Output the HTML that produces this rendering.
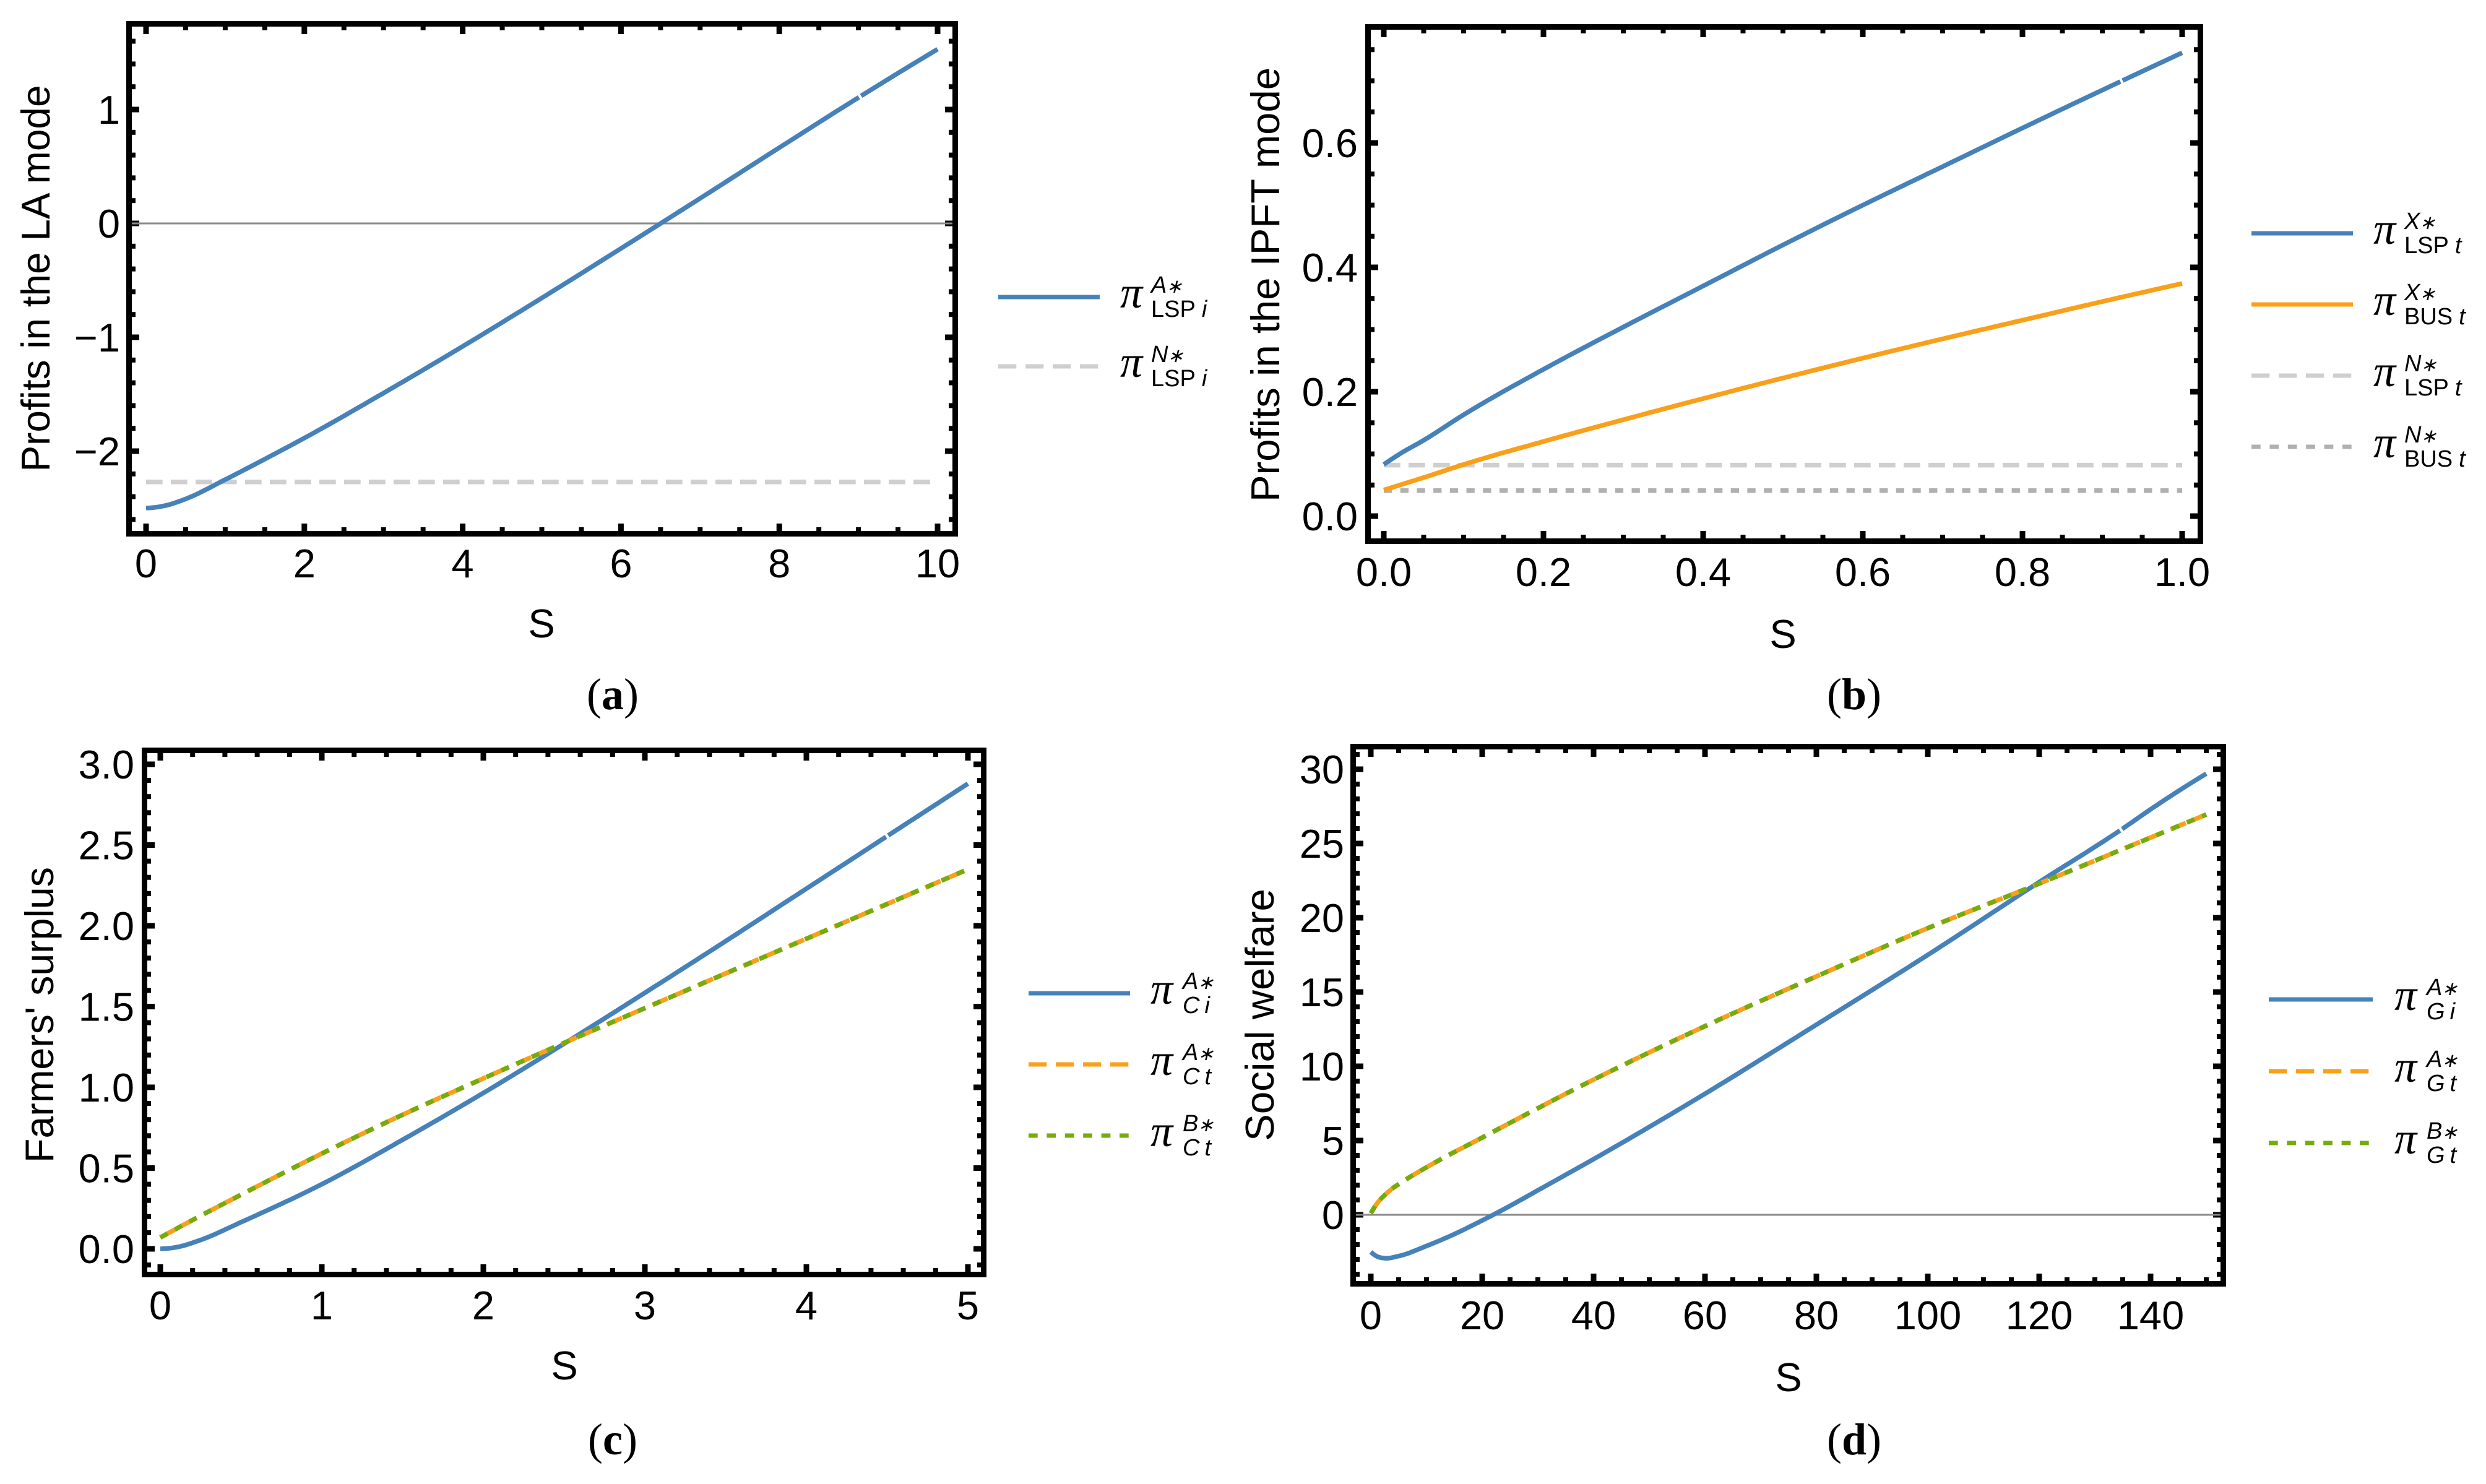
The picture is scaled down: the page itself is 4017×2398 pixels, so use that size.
<!DOCTYPE html>
<html lang="en">
<head>
<meta charset="utf-8">
<title>Profits, farmers' surplus and social welfare versus S</title>
<style>
html,body{margin:0;padding:0;background:#fff;}
svg{display:block;}
text{font-family:"Liberation Sans",Arial,sans-serif;fill:#000;}
.pi{font-family:"Liberation Serif",serif;font-style:italic;font-size:72px;}
.ls{font-size:38px;}
.it{font-style:italic;}
.st{font-size:31px;}
.cap{font-family:"Liberation Serif",serif;font-size:72px;text-anchor:middle;}
.title{font-size:65px;}
.tick{font-size:65px;}
</style>
</head>
<body>
<svg id="figure" xmlns="http://www.w3.org/2000/svg" width="4017" height="2398" viewBox="0 0 4017 2398">
  <rect width="4017" height="2398" fill="#fff"/>

  <g id="panel-a"></g>
  <g id="panel-b"></g>
  <g id="panel-c"></g>
  <g id="panel-d"></g>

  <!-- Axis titles -->
  <text class="title" transform="translate(80 450) rotate(-90)" text-anchor="middle" textLength="625" lengthAdjust="spacingAndGlyphs">Profits in the LA mode</text>
  <text class="title" x="875" y="1030" text-anchor="middle">S</text>
  <text class="title" transform="translate(2067 460) rotate(-90)" text-anchor="middle" textLength="702" lengthAdjust="spacingAndGlyphs">Profits in the IPFT mode</text>
  <text class="title" x="2881" y="1047" text-anchor="middle">S</text>
  <text class="title" transform="translate(86 1640) rotate(-90)" text-anchor="middle" textLength="478" lengthAdjust="spacingAndGlyphs">Farmers' surplus</text>
  <text class="title" x="912" y="2229" text-anchor="middle">S</text>
  <text class="title" transform="translate(2058 1640) rotate(-90)" text-anchor="middle" textLength="408" lengthAdjust="spacingAndGlyphs">Social welfare</text>
  <text class="title" x="2890" y="2248" text-anchor="middle">S</text>

  <!-- Captions -->
  <text class="cap" x="990" y="1146">(<tspan font-weight="bold">a</tspan>)</text>
  <text class="cap" x="2996" y="1146">(<tspan font-weight="bold">b</tspan>)</text>
  <text class="cap" x="990" y="2350">(<tspan font-weight="bold">c</tspan>)</text>
  <text class="cap" x="2996" y="2350">(<tspan font-weight="bold">d</tspan>)</text>

  <!-- Legend a -->
  <g>
    <line x1="1613" x2="1777" y1="480" y2="480" stroke="#4682b9" stroke-width="7"/>
    <text class="pi" x="1810" y="497">π</text>
    <text class="ls it" x="1860" y="473">A<tspan class="st" dx="-1">∗</tspan></text>
    <text class="ls" x="1860" y="512">LSP<tspan class="it" dx="10">i</tspan></text>
  </g>
  <g>
    <line x1="1613" x2="1777" y1="592" y2="592" stroke="#cfcfcf" stroke-width="7" stroke-dasharray="29.3 14.7"/>
    <text class="pi" x="1810" y="609">π</text>
    <text class="ls it" x="1860" y="585">N<tspan class="st" dx="-1">∗</tspan></text>
    <text class="ls" x="1860" y="624">LSP<tspan class="it" dx="10">i</tspan></text>
  </g>

  <!-- Legend b -->
  <g>
    <line x1="3638" x2="3802" y1="377" y2="377" stroke="#4682b9" stroke-width="7"/>
    <text class="pi" x="3835" y="394">π</text>
    <text class="ls it" x="3885" y="370">X<tspan class="st" dx="-1">∗</tspan></text>
    <text class="ls" x="3885" y="409">LSP<tspan class="it" dx="10">t</tspan></text>
  </g>
  <g>
    <line x1="3638" x2="3802" y1="492" y2="492" stroke="#f9a01b" stroke-width="7"/>
    <text class="pi" x="3835" y="509">π</text>
    <text class="ls it" x="3885" y="485">X<tspan class="st" dx="-1">∗</tspan></text>
    <text class="ls" x="3885" y="524">BUS<tspan class="it" dx="10">t</tspan></text>
  </g>
  <g>
    <line x1="3638" x2="3802" y1="607" y2="607" stroke="#cfcfcf" stroke-width="7" stroke-dasharray="29.3 14.7"/>
    <text class="pi" x="3835" y="624">π</text>
    <text class="ls it" x="3885" y="600">N<tspan class="st" dx="-1">∗</tspan></text>
    <text class="ls" x="3885" y="639">LSP<tspan class="it" dx="10">t</tspan></text>
  </g>
  <g>
    <line x1="3638" x2="3802" y1="722" y2="722" stroke="#b0b0b0" stroke-width="7" stroke-dasharray="14.7 14.7"/>
    <text class="pi" x="3835" y="739">π</text>
    <text class="ls it" x="3885" y="715">N<tspan class="st" dx="-1">∗</tspan></text>
    <text class="ls" x="3885" y="754">BUS<tspan class="it" dx="10">t</tspan></text>
  </g>

  <!-- Legend c -->
  <g>
    <line x1="1662" x2="1826" y1="1605" y2="1605" stroke="#4682b9" stroke-width="7"/>
    <text class="pi" x="1859" y="1622">π</text>
    <text class="ls it" x="1911" y="1598">A<tspan class="st" dx="-1">∗</tspan></text>
    <text class="ls it" x="1911" y="1637">C<tspan dx="8">i</tspan></text>
  </g>
  <g>
    <line x1="1662" x2="1826" y1="1720" y2="1720" stroke="#f9a01b" stroke-width="7" stroke-dasharray="29.3 14.7"/>
    <text class="pi" x="1859" y="1737">π</text>
    <text class="ls it" x="1911" y="1713">A<tspan class="st" dx="-1">∗</tspan></text>
    <text class="ls it" x="1911" y="1752">C<tspan dx="8">t</tspan></text>
  </g>
  <g>
    <line x1="1662" x2="1826" y1="1835" y2="1835" stroke="#76ab0c" stroke-width="7" stroke-dasharray="14.7 14.7"/>
    <text class="pi" x="1859" y="1852">π</text>
    <text class="ls it" x="1911" y="1828">B<tspan class="st" dx="-1">∗</tspan></text>
    <text class="ls it" x="1911" y="1867">C<tspan dx="8">t</tspan></text>
  </g>

  <!-- Legend d -->
  <g>
    <line x1="3666" x2="3834" y1="1615" y2="1615" stroke="#4682b9" stroke-width="7"/>
    <text class="pi" x="3869" y="1632">π</text>
    <text class="ls it" x="3921" y="1608">A<tspan class="st" dx="-1">∗</tspan></text>
    <text class="ls it" x="3921" y="1647">G<tspan dx="8">i</tspan></text>
  </g>
  <g>
    <line x1="3666" x2="3834" y1="1731" y2="1731" stroke="#f9a01b" stroke-width="7" stroke-dasharray="29.3 14.7"/>
    <text class="pi" x="3869" y="1748">π</text>
    <text class="ls it" x="3921" y="1724">A<tspan class="st" dx="-1">∗</tspan></text>
    <text class="ls it" x="3921" y="1763">G<tspan dx="8">t</tspan></text>
  </g>
  <g>
    <line x1="3666" x2="3834" y1="1847" y2="1847" stroke="#76ab0c" stroke-width="7" stroke-dasharray="14.7 14.7"/>
    <text class="pi" x="3869" y="1864">π</text>
    <text class="ls it" x="3921" y="1840">B<tspan class="st" dx="-1">∗</tspan></text>
    <text class="ls it" x="3921" y="1879">G<tspan dx="8">t</tspan></text>
  </g>
</svg>

<script>
// ---- Panel (a) data ----
const aXTickLabels = ['0','2','4','6','8','10'];
const aYTickLabels = ['−2','−1','0','1'];
const aS = [0,0.25,0.5,1,1.5,2,3,4,5,6,7,8,9,10];
const aProfitA = [-2.5,-2.477,-2.42,-2.25,-2.07,-1.885,-1.49,-1.08,-0.655,-0.22,0.22,0.665,1.105,1.53];
const aNoneS = [0,10];
const aProfitN = [-2.27,-2.27];

// ---- Panel (b) data ----
const bXTickLabels = ['0.0','0.2','0.4','0.6','0.8','1.0'];
const bYTickLabels = ['0.0','0.2','0.4','0.6'];
const bS = [0,0.02,0.05,0.1,0.2,0.3,0.4,0.5,0.6,0.7,0.8,0.9,1];
const bProfitLsp = [0.083,0.1,0.122,0.163,0.236,0.304,0.37,0.436,0.5,0.562,0.624,0.685,0.745];
const bProfitBus = [0.042,0.05,0.062,0.083,0.12,0.155,0.189,0.222,0.254,0.285,0.315,0.345,0.374];
const bNoneS = [0,1];
const bProfitNLsp = [0.082,0.082];
const bProfitNBus = [0.041,0.041];

// ---- Panel (c) data ----
const cXTickLabels = ['0','1','2','3','4','5'];
const cYTickLabels = ['0.0','0.5','1.0','1.5','2.0','2.5','3.0'];
const cSI = [0,0.1,0.25,0.5,1,1.5,2,2.5,3,3.5,4,4.5,5];
const cSurplusI = [0,0.01,0.055,0.165,0.4,0.675,0.965,1.27,1.585,1.905,2.23,2.555,2.88];
const cST = [0,0.25,0.5,1,1.5,2,2.5,3,3.5,4,4.5,5];
const cSurplusT = [0.07,0.205,0.335,0.59,0.83,1.055,1.275,1.49,1.705,1.92,2.135,2.35];

// ---- Panel (d) data ----
const dXTickLabels = ['0','20','40','60','80','100','120','140'];
const dYTickLabels = ['0','5','10','15','20','25','30'];
const dSI = [0,1,2.5,5,10,15,20,24,30,40,60,80,100,120,135,140,150];
const dWelfareI = [-2.5,-2.78,-2.92,-2.78,-2.1,-1.3,-0.38,0.4,1.65,3.75,8.15,12.8,17.5,22.4,26,27.3,29.7];
const dST = [0,1,3,6,10,20,40,60,80,100,120,140,150];
const dWelfareT = [0.1,0.7,1.5,2.3,3.2,5.2,9.1,12.7,16.05,19.3,22.3,25.4,26.95];

// ---- Drawing helpers ----
const SVG_NS = 'http://www.w3.org/2000/svg';
const BLUE = '#4682b9', ORANGE = '#f9a01b', GREEN = '#76ab0c', LIGHT = '#cfcfcf', MID = '#b0b0b0';
const FRAME_W = 9, LINE_W = 7.5;

function make(tag, parent, attrs) {
  const node = document.createElementNS(SVG_NS, tag);
  for (const key in attrs) node.setAttribute(key, attrs[key]);
  parent.appendChild(node);
  return node;
}

function linear(domain0, range0, pxPerUnit) {
  const f = v => range0 + (v - domain0) * pxPerUnit;
  f.invert = p => domain0 + (p - range0) / pxPerUnit;
  return f;
}

// Cubic Hermite through the read values; tangents from a three-point parabola
// so unevenly spaced readings stay smooth.
function densePoints(sVals, vVals, x, y) {
  const n = sVals.length;
  const h = [], d = [];
  for (let i = 0; i < n - 1; i++) {
    h.push(sVals[i + 1] - sVals[i]);
    d.push((vVals[i + 1] - vVals[i]) / h[i]);
  }
  const m = sVals.map((s, i) => {
    if (n === 2) return d[0];
    if (i === 0) return ((2 * h[0] + h[1]) * d[0] - h[0] * d[1]) / (h[0] + h[1]);
    if (i === n - 1) return ((2 * h[n - 2] + h[n - 3]) * d[n - 2] - h[n - 2] * d[n - 3]) / (h[n - 2] + h[n - 3]);
    return (h[i] * d[i - 1] + h[i - 1] * d[i]) / (h[i - 1] + h[i]);
  });
  const pts = [];
  for (let i = 0; i < n - 1; i++) {
    for (let k = 0; k < 16; k++) {
      const t = k / 16, t2 = t * t, t3 = t2 * t;
      const v = (2*t3 - 3*t2 + 1) * vVals[i] + (t3 - 2*t2 + t) * h[i] * m[i]
              + (-2*t3 + 3*t2) * vVals[i + 1] + (t3 - t2) * h[i] * m[i + 1];
      pts.push([x(sVals[i] + t * h[i]), y(v)]);
    }
  }
  pts.push([x(sVals[n - 1]), y(vVals[n - 1])]);
  return pts;
}

function pathOf(pts) {
  return 'M' + pts.map(p => p[0].toFixed(1) + ' ' + p[1].toFixed(1)).join('L');
}

function yAtPixel(pts, px) {
  for (let i = 0; i < pts.length - 1; i++) {
    if (pts[i][0] <= px && px <= pts[i + 1][0]) {
      const t = (px - pts[i][0]) / (pts[i + 1][0] - pts[i][0]);
      return pts[i][1] + t * (pts[i + 1][1] - pts[i][1]);
    }
  }
  return pts[pts.length - 1][1];
}

function drawSeries(g, sVals, vVals, x, y, color, dash, gapS) {
  const pts = densePoints(sVals, vVals, x, y);
  const groups = [];
  if (gapS === null) {
    groups.push(pts);
  } else {
    const gx = x(gapS), half = 1.8;
    const before = pts.filter(p => p[0] < gx - half);
    before.push([gx - half, yAtPixel(pts, gx - half)]);
    const after = pts.filter(p => p[0] > gx + half);
    after.unshift([gx + half, yAtPixel(pts, gx + half)]);
    groups.push(before, after);
  }
  return groups.map(list => make('path', g, {
    d: pathOf(list), fill: 'none', stroke: color, 'stroke-width': LINE_W,
    'stroke-dasharray': dash
  }));
}

function drawAxes(g, box, x, y, xLabels, yLabels, xMinorN, yMinorN, opts) {
  const inL = box.l + FRAME_W, inR = box.r - FRAME_W, inT = box.t + FRAME_W, inB = box.b - FRAME_W;
  const num = s => Number(s.replace('−', '-'));
  const xMajor = xLabels.map(num), yMajor = yLabels.map(num);
  const xStep = (xMajor[1] - xMajor[0]) / xMinorN, yStep = (yMajor[1] - yMajor[0]) / yMinorN;

  const xFirst = Math.ceil(x.invert(inL) / xStep - 1e-6), xLast = Math.floor(x.invert(inR) / xStep + 1e-6);
  for (let k = xFirst; k <= xLast; k++) {
    const major = k % xMinorN === 0;
    const px = x(k * xStep), len = major ? 12 : 6, w = major ? 9 : 8;
    const lo = make('rect', g, {x: px - w / 2, y: inB - len, width: w, height: len, fill: '#000'});
    
    
    const hi = make('rect', g, {x: px - w / 2, y: inT, width: w, height: len, fill: '#000'});
    
    
  }
  // inT is the smaller pixel value, so y.invert(inT) is the top of the value range.
  const yFirst = Math.ceil(y.invert(inB) / yStep - 1e-6), yLast = Math.floor(y.invert(inT) / yStep + 1e-6);
  for (let k = yFirst; k <= yLast; k++) {
    const major = k % yMinorN === 0;
    const py = y(k * yStep), len = major ? 12 : 6, w = major ? 9 : 8;
    const lo = make('rect', g, {x: inL, y: py - w / 2, width: len, height: w, fill: '#000'});
    
    
    const hi = make('rect', g, {x: inR - len, y: py - w / 2, width: len, height: w, fill: '#000'});
    
    
  }

  xLabels.forEach(label => {
    const t = make('text', g, {class: 'tick', x: x(num(label)), y: box.b + opts.xBase, 'text-anchor': 'middle'});
    t.textContent = label;
    
    
  });
  yLabels.forEach(label => {
    const t = make('text', g, {class: 'tick', x: box.l - opts.yGap, y: y(num(label)) + 23, 'text-anchor': 'end'});
    t.textContent = label;
    
    
  });

  if (opts.zeroLine) {
    const z = make('line', g, {x1: box.l + 4, x2: box.r - 4, y1: y(0), y2: y(0), stroke: '#8a8a8a', 'stroke-width': 3});
    
    
  }
}

function drawFrame(g, box) {
  const f = make('rect', g, {
    x: box.l + FRAME_W / 2, y: box.t + FRAME_W / 2,
    width: box.r - box.l - FRAME_W, height: box.b - box.t - FRAME_W,
    fill: 'none', stroke: '#000', 'stroke-width': FRAME_W
  });
  
  
}

function nameAll(paths, name) {
  paths.forEach(p => {
    
    
  });
}

const DASH = '26.7 13.3', DOT = '13.3 13.4';

// ---- Panel (a) ----
(function () {
  const g = document.getElementById('panel-a');
  const box = {l: 204, r: 1548, t: 34, b: 867};
  const x = linear(0, 236, 127.9), y = linear(0, 361, -184);
  drawAxes(g, box, x, y, aXTickLabels, aYTickLabels, 4, 5, {xBase: 66, yGap: 10, zeroLine: true});
  nameAll(drawSeries(g, aNoneS, aProfitN, x, y, LIGHT, DASH, null), 'series-profit-n-lsp-i');
  nameAll(drawSeries(g, aS, aProfitA, x, y, BLUE, 'none', 9.02), 'series-profit-a-lsp-i');
  drawFrame(g, box);
})();

// ---- Panel (b) ----
(function () {
  const g = document.getElementById('panel-b');
  const box = {l: 2206, r: 3560, t: 39, b: 879};
  const x = linear(0, 2236, 1290), y = linear(0, 834, -1005);
  drawAxes(g, box, x, y, bXTickLabels, bYTickLabels, 4, 4, {xBase: 68, yGap: 12, zeroLine: false});
  nameAll(drawSeries(g, bNoneS, bProfitNLsp, x, y, LIGHT, DASH, null), 'series-profit-n-lsp-t');
  nameAll(drawSeries(g, bNoneS, bProfitNBus, x, y, MID, DOT, null), 'series-profit-n-bus-t');
  nameAll(drawSeries(g, bS, bProfitLsp, x, y, BLUE, 'none', 0.924), 'series-profit-x-lsp-t');
  nameAll(drawSeries(g, bS, bProfitBus, x, y, ORANGE, 'none', null), 'series-profit-x-bus-t');
  drawFrame(g, box);
})();

// ---- Panel (c) ----
(function () {
  const g = document.getElementById('panel-c');
  const box = {l: 229, r: 1594, t: 1208, b: 2064};
  const x = linear(0, 259, 261), y = linear(0, 2018, -261);
  drawAxes(g, box, x, y, cXTickLabels, cYTickLabels, 5, 5, {xBase: 68, yGap: 12, zeroLine: false});
  nameAll(drawSeries(g, cSI, cSurplusI, x, y, BLUE, 'none', 4.5), 'series-surplus-a-c-i');
  nameAll(drawSeries(g, cST, cSurplusT, x, y, ORANGE, DASH, null), 'series-surplus-a-c-t');
  nameAll(drawSeries(g, cST, cSurplusT, x, y, GREEN, DOT, null), 'series-surplus-b-c-t');
  drawFrame(g, box);
})();

// ---- Panel (d) ----
(function () {
  const g = document.getElementById('panel-d');
  const box = {l: 2182, r: 3597, t: 1202, b: 2079};
  const x = linear(0, 2215, 9), y = linear(0, 1963, -24);
  drawAxes(g, box, x, y, dXTickLabels, dYTickLabels, 4, 5, {xBase: 69, yGap: 10, zeroLine: true});
  nameAll(drawSeries(g, dSI, dWelfareI, x, y, BLUE, 'none', 134.7), 'series-welfare-a-g-i');
  nameAll(drawSeries(g, dST, dWelfareT, x, y, ORANGE, DASH, null), 'series-welfare-a-g-t');
  nameAll(drawSeries(g, dST, dWelfareT, x, y, GREEN, DOT, null), 'series-welfare-b-g-t');
  drawFrame(g, box);
})();
</script>
</body>
</html>
